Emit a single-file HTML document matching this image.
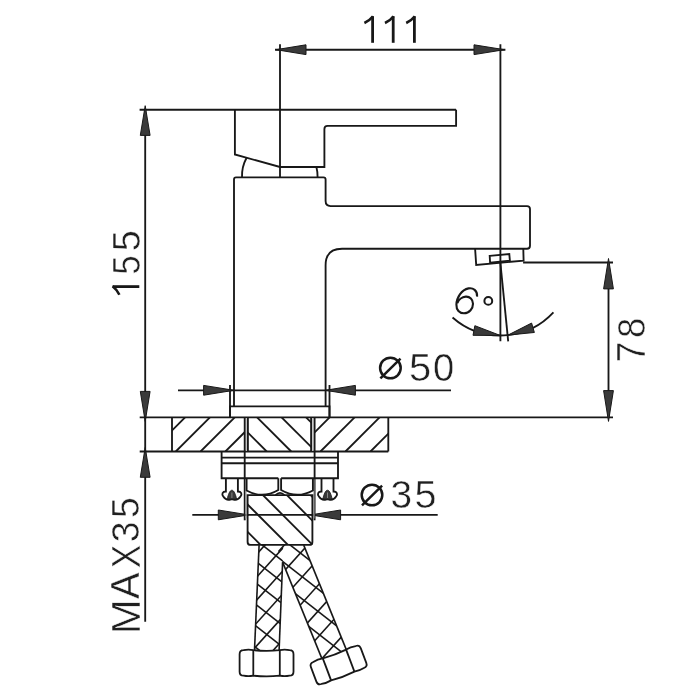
<!DOCTYPE html>
<html><head><meta charset="utf-8"><style>
html,body{margin:0;padding:0;background:#fff;}
svg{display:block;}
</style></head><body>
<svg width="700" height="700" viewBox="0 0 700 700" stroke-linecap="butt" style="filter:grayscale(1)">
<rect width="700" height="700" fill="#fff"/>
<line x1="280" y1="44.3" x2="280" y2="177.4" stroke="#181818" stroke-width="1.85"/>
<line x1="500.4" y1="44.3" x2="500.4" y2="341.3" stroke="#181818" stroke-width="1.85"/>
<line x1="275" y1="49.7" x2="505.4" y2="49.7" stroke="#181818" stroke-width="1.85"/>
<path d="M276.00,49.70 L306.00,44.80 L306.00,54.60 Z" fill="#3a3a3a" stroke="#181818" stroke-width="1" stroke-linejoin="round"/>
<path d="M504.40,49.70 L474.00,54.60 L474.00,44.80 Z" fill="#3a3a3a" stroke="#181818" stroke-width="1" stroke-linejoin="round"/>
<path d="M372.6,42.8 L372.6,16.2" fill="none" stroke="#181818" stroke-width="2.8" />
<path d="M373.0,16.2 Q369.6,20.6 364.40000000000003,23.0" fill="none" stroke="#181818" stroke-width="2.5999999999999996" />
<path d="M393.2,42.8 L393.2,16.2" fill="none" stroke="#181818" stroke-width="2.8" />
<path d="M393.59999999999997,16.2 Q390.2,20.6 385.0,23.0" fill="none" stroke="#181818" stroke-width="2.5999999999999996" />
<path d="M414.4,42.8 L414.4,16.2" fill="none" stroke="#181818" stroke-width="2.8" />
<path d="M414.79999999999995,16.2 Q411.4,20.6 406.2,23.0" fill="none" stroke="#181818" stroke-width="2.5999999999999996" />
<line x1="139.6" y1="109.7" x2="456.1" y2="109.7" stroke="#181818" stroke-width="1.85"/>
<line x1="145.2" y1="109.7" x2="145.2" y2="621.8" stroke="#181818" stroke-width="1.85"/>
<path d="M145.20,105.70 L150.10,135.40 L140.30,135.40 Z" fill="#3a3a3a" stroke="#181818" stroke-width="1" stroke-linejoin="round"/>
<path d="M145.20,421.40 L140.30,391.40 L150.10,391.40 Z" fill="#3a3a3a" stroke="#181818" stroke-width="1" stroke-linejoin="round"/>
<path d="M145.20,447.50 L150.10,477.30 L140.30,477.30 Z" fill="#3a3a3a" stroke="#181818" stroke-width="1" stroke-linejoin="round"/>
<path d="M139.3,286.6 L112.6,286.6" fill="none" stroke="#181818" stroke-width="2.8" />
<path d="M112.6,286.20000000000005 Q117,289.6 119.4,294.8" fill="none" stroke="#181818" stroke-width="2.5999999999999996" />
<text transform="matrix(0,-0.3495,0.3971,0,139.65,274.85)" font-family="Liberation Sans" font-size="100" fill="#202020" stroke="#fff" stroke-width="1.43">5</text>
<text transform="matrix(0,-0.3811,0.3971,0,139.65,251.37)" font-family="Liberation Sans" font-size="100" fill="#202020" stroke="#fff" stroke-width="1.31">5</text>
<text transform="matrix(0,-0.4193,0.4029,0,139.55,634.30)" font-family="Liberation Sans" font-size="100" fill="#202020" stroke="#fff" stroke-width="1.24">M</text>
<text transform="matrix(0,-0.3970,0.4000,0,139.35,599.05)" font-family="Liberation Sans" font-size="100" fill="#202020" stroke="#fff" stroke-width="1.26">A</text>
<text transform="matrix(0,-0.3532,0.4029,0,139.55,568.23)" font-family="Liberation Sans" font-size="100" fill="#202020" stroke="#fff" stroke-width="1.42">X</text>
<text transform="matrix(0,-0.3726,0.3873,0,139.36,542.14)" font-family="Liberation Sans" font-size="100" fill="#202020" stroke="#fff" stroke-width="1.34">3</text>
<text transform="matrix(0,-0.3726,0.3971,0,139.15,518.04)" font-family="Liberation Sans" font-size="100" fill="#202020" stroke="#fff" stroke-width="1.34">5</text>
<line x1="139.7" y1="417.4" x2="613" y2="417.4" stroke="#181818" stroke-width="1.85"/>
<line x1="139.7" y1="451.5" x2="388.3" y2="451.5" stroke="#181818" stroke-width="1.85"/>
<line x1="172" y1="417.4" x2="172" y2="451.5" stroke="#181818" stroke-width="1.85"/>
<line x1="388.3" y1="417.4" x2="388.3" y2="451.5" stroke="#181818" stroke-width="1.85"/>
<line x1="523.1" y1="262.5" x2="613" y2="262.5" stroke="#181818" stroke-width="1.85"/>
<line x1="608.5" y1="262.5" x2="608.5" y2="417.4" stroke="#181818" stroke-width="1.85"/>
<path d="M608.50,258.50 L613.40,288.90 L603.60,288.90 Z" fill="#3a3a3a" stroke="#181818" stroke-width="1" stroke-linejoin="round"/>
<path d="M608.50,421.40 L603.60,390.60 L613.40,390.60 Z" fill="#3a3a3a" stroke="#181818" stroke-width="1" stroke-linejoin="round"/>
<text transform="matrix(0,-0.3761,0.4014,0,645.45,362.53)" font-family="Liberation Sans" font-size="100" fill="#202020" stroke="#fff" stroke-width="1.33">7</text>
<text transform="matrix(0,-0.3642,0.3930,0,645.06,338.11)" font-family="Liberation Sans" font-size="100" fill="#202020" stroke="#fff" stroke-width="1.37">8</text>
<line x1="178" y1="390.3" x2="451" y2="390.3" stroke="#181818" stroke-width="1.85"/>
<line x1="230" y1="385" x2="230" y2="417.4" stroke="#181818" stroke-width="1.85"/>
<line x1="329.5" y1="385" x2="329.5" y2="417.4" stroke="#181818" stroke-width="1.85"/>
<path d="M234.00,390.30 L203.60,395.20 L203.60,385.40 Z" fill="#3a3a3a" stroke="#181818" stroke-width="1" stroke-linejoin="round"/>
<path d="M325.50,390.30 L355.40,385.40 L355.40,395.20 Z" fill="#3a3a3a" stroke="#181818" stroke-width="1" stroke-linejoin="round"/>
<circle cx="390.4" cy="368" r="10.3" fill="none" stroke="#181818" stroke-width="2.5"/>
<path d="M380.4,378.3 L400.5,358.7" fill="none" stroke="#181818" stroke-width="2.5" />
<text transform="matrix(0.4000,0,0,0.3914,409.05,381.36)" font-family="Liberation Sans" font-size="100" fill="#202020" stroke="#fff" stroke-width="1.28">5</text>
<text transform="matrix(0.3814,0,0,0.3859,433.01,381.36)" font-family="Liberation Sans" font-size="100" fill="#202020" stroke="#fff" stroke-width="1.31">0</text>
<line x1="192.3" y1="514.9" x2="437.7" y2="514.9" stroke="#181818" stroke-width="1.85"/>
<rect x="245.6" y="418" width="1.4" height="33" fill="#c4c4c4"/>
<rect x="312.1" y="418" width="1.5" height="33" fill="#c4c4c4"/>
<line x1="244.7" y1="417.4" x2="244.7" y2="520.3" stroke="#181818" stroke-width="1.85"/>
<line x1="314.6" y1="417.4" x2="314.6" y2="520.3" stroke="#181818" stroke-width="1.85"/>
<path d="M248.70,514.90 L218.30,519.80 L218.30,510.00 Z" fill="#3a3a3a" stroke="#181818" stroke-width="1" stroke-linejoin="round"/>
<path d="M310.60,514.90 L340.60,510.00 L340.60,519.80 Z" fill="#3a3a3a" stroke="#181818" stroke-width="1" stroke-linejoin="round"/>
<circle cx="372" cy="495" r="10.3" fill="none" stroke="#181818" stroke-width="2.5"/>
<path d="M362,505.3 L382.1,485.7" fill="none" stroke="#181818" stroke-width="2.5" />
<text transform="matrix(0.3895,0,0,0.3887,390.49,507.56)" font-family="Liberation Sans" font-size="100" fill="#202020" stroke="#fff" stroke-width="1.29">3</text>
<text transform="matrix(0.3958,0,0,0.3943,414.47,507.56)" font-family="Liberation Sans" font-size="100" fill="#202020" stroke="#fff" stroke-width="1.27">5</text>
<path d="M234.9,109.7 L234.9,154.5 L280,167 L324.4,167 L324.4,129 Q324.4,125.8 327.6,125.8 L456.1,125.8 L456.1,109.7" fill="none" stroke="#181818" stroke-width="1.85" />
<path d="M242,177.4 A38,38 0 0 1 246.6,157.8" fill="none" stroke="#181818" stroke-width="1.85" />
<path d="M317.6,177.4 A38,38 0 0 0 316.4,167" fill="none" stroke="#181818" stroke-width="1.85" />
<path d="M234,406.4 L234,179.4 Q234,177.4 236,177.4 L323.5,177.4 Q325.6,177.4 325.6,179.5 L325.6,201.1 Q325.6,206.1 330.6,206.1 L527,206.1 Q530,206.1 530,209.1 L530,245.7 Q530,248.7 527,248.7 L342.1,248.7 Q325.6,248.7 325.6,265.2 L325.6,406.4" fill="none" stroke="#181818" stroke-width="1.85" />
<path d="M475.1,248.7 L476.2,264.9 L523.6,260.6 L523.3,248.7" fill="none" stroke="#181818" stroke-width="1.85" />
<path d="M489.7,255.9 L509.3,254.1 L509.9,260.7 L490.1,262.7 Z" fill="none" stroke="#181818" stroke-width="1.85" />
<path d="M230,417.4 L230,406.4 L329.5,406.4 L329.5,417.4" fill="none" stroke="#181818" stroke-width="1.85" />
<line x1="247.9" y1="417.4" x2="247.9" y2="451.5" stroke="#181818" stroke-width="1.85"/>
<line x1="311.1" y1="417.4" x2="311.1" y2="451.5" stroke="#181818" stroke-width="1.85"/>
<rect x="245.6" y="478.5" width="1.2" height="40" fill="#c8c8c8"/>
<rect x="313.2" y="478.5" width="1.2" height="40" fill="#c8c8c8"/>
<path d="M278.3,478.2 L221.6,478.2 L221.6,451.5" fill="none" stroke="#181818" stroke-width="1.85" />
<path d="M281.1,478.2 L338,478.2 L338,451.5" fill="none" stroke="#181818" stroke-width="1.85" />
<line x1="221.6" y1="457.6" x2="338" y2="457.6" stroke="#181818" stroke-width="1.85"/>
<line x1="221.6" y1="463.2" x2="338" y2="463.2" stroke="#181818" stroke-width="1.85"/>
<clipPath id="hL"><rect x="172" y="417.4" width="72.69999999999999" height="34.10000000000002"/></clipPath>
<g clip-path="url(#hL)">
<line x1="126.2" y1="451.5" x2="160.3" y2="417.4" stroke="#181818" stroke-width="1.85"/>
<line x1="151.0" y1="451.5" x2="185.1" y2="417.4" stroke="#181818" stroke-width="1.85"/>
<line x1="175.8" y1="451.5" x2="209.9" y2="417.4" stroke="#181818" stroke-width="1.85"/>
<line x1="200.6" y1="451.5" x2="234.7" y2="417.4" stroke="#181818" stroke-width="1.85"/>
<line x1="225.4" y1="451.5" x2="259.5" y2="417.4" stroke="#181818" stroke-width="1.85"/>
<line x1="250.2" y1="451.5" x2="284.3" y2="417.4" stroke="#181818" stroke-width="1.85"/>
</g>
<clipPath id="hM"><rect x="247.9" y="417.4" width="63.20000000000002" height="34.10000000000002"/></clipPath>
<g clip-path="url(#hM)">
<line x1="306.1" y1="417.4" x2="340.2" y2="451.5" stroke="#181818" stroke-width="1.85"/>
<line x1="281.6" y1="417.4" x2="315.7" y2="451.5" stroke="#181818" stroke-width="1.85"/>
<line x1="257.1" y1="417.4" x2="291.2" y2="451.5" stroke="#181818" stroke-width="1.85"/>
<line x1="232.6" y1="417.4" x2="266.7" y2="451.5" stroke="#181818" stroke-width="1.85"/>
<line x1="208.1" y1="417.4" x2="242.2" y2="451.5" stroke="#181818" stroke-width="1.85"/>
</g>
<clipPath id="hR"><rect x="314.6" y="417.4" width="73.69999999999999" height="34.10000000000002"/></clipPath>
<g clip-path="url(#hR)">
<line x1="270.5" y1="451.5" x2="304.6" y2="417.4" stroke="#181818" stroke-width="1.85"/>
<line x1="295.5" y1="451.5" x2="329.6" y2="417.4" stroke="#181818" stroke-width="1.85"/>
<line x1="320.5" y1="451.5" x2="354.6" y2="417.4" stroke="#181818" stroke-width="1.85"/>
<line x1="345.5" y1="451.5" x2="379.6" y2="417.4" stroke="#181818" stroke-width="1.85"/>
<line x1="370.5" y1="451.5" x2="404.6" y2="417.4" stroke="#181818" stroke-width="1.85"/>
<line x1="395.5" y1="451.5" x2="429.6" y2="417.4" stroke="#181818" stroke-width="1.85"/>
</g>
<line x1="500.4" y1="263" x2="508.2" y2="341.3" stroke="#181818" stroke-width="1.85"/>
<path d="M452.55,317.47 A72.5,72.5 0 0 0 553.42,312.44" fill="none" stroke="#181818" stroke-width="1.85" />
<path d="M500.40,335.50 L473.04,335.32 L474.86,325.69 Z" fill="#3a3a3a" stroke="#181818" stroke-width="1" stroke-linejoin="round"/>
<path d="M507.98,335.10 L531.60,323.07 L534.35,332.47 Z" fill="#3a3a3a" stroke="#181818" stroke-width="1" stroke-linejoin="round"/>
<path d="M477.1,296.6 C477.6,290.5 473,287.6 468.5,288.4 C461.5,289.8 456.6,297.5 456.4,304.5 C456.2,310 459.5,313.3 464,313.3 C469.5,313.3 473,308.5 473,303.8 C473,299.2 469.8,296.4 465.8,296.6 C461.8,296.8 458.5,300 457.3,303" fill="none" stroke="#181818" stroke-width="2.1" />
<circle cx="488.3" cy="300.9" r="3.9" fill="none" stroke="#181818" stroke-width="2"/>
<path d="M225.9,478.2 L225.9,491.5 C222.4,491.5 221.4,494 223.3,496.5 C224.9,498.8 227.4,500.2 229.4,499.8 L231.9,499 L234.4,499.8 C236.4,500.2 238.9,498.8 240.5,496.5 C242.4,494 241.4,491.5 237.9,491.5 L237.9,478.2" fill="none" stroke="#181818" stroke-width="1.85" />
<path d="M227.1,499.2 C228.3,494.5 229.70000000000002,490.2 231.9,490.2 C234.1,490.2 235.5,494.5 236.70000000000002,499.2 Z" fill="#3a3a3a" stroke="#181818" stroke-width="0.8"/>
<path d="M231.9,492.5 L231.9,498" stroke="#888" stroke-width="1"/>
<path d="M321.5,478.2 L321.5,491.5 C318.0,491.5 317.0,494 318.9,496.5 C320.5,498.8 323.0,500.2 325.0,499.8 L327.5,499 L330.0,499.8 C332.0,500.2 334.5,498.8 336.1,496.5 C338.0,494 337.0,491.5 333.5,491.5 L333.5,478.2" fill="none" stroke="#181818" stroke-width="1.85" />
<path d="M322.7,499.2 C323.9,494.5 325.3,490.2 327.5,490.2 C329.7,490.2 331.1,494.5 332.3,499.2 Z" fill="#3a3a3a" stroke="#181818" stroke-width="0.8"/>
<path d="M327.5,492.5 L327.5,498" stroke="#888" stroke-width="1"/>
<path d="M246.6,478.2 L246.6,490.5 Q262.5,499.3 278.3,490 L278.3,478.2" fill="none" stroke="#181818" stroke-width="1.85" />
<path d="M281.1,478.2 L281.1,490 Q297,499.3 312.9,490.5 L312.9,478.2" fill="none" stroke="#181818" stroke-width="1.85" />
<path d="M275.5,495.1 Q280,490.5 284.5,495.1" fill="none" stroke="#181818" stroke-width="1.85" />
<path d="M247.6,495.1 L312.4,495.1 L312.4,541.9 Q312.4,544.9 309.4,544.9 L250.6,544.9 Q247.6,544.9 247.6,541.9 Z" fill="none" stroke="#181818" stroke-width="1.85" />
<clipPath id="hS"><rect x="247.6" y="495.1" width="64.79999999999998" height="49.799999999999955"/></clipPath>
<g clip-path="url(#hS)">
<line x1="310.6" y1="495.1" x2="360.4" y2="544.9" stroke="#181818" stroke-width="1.85"/>
<line x1="286.9" y1="495.1" x2="336.7" y2="544.9" stroke="#181818" stroke-width="1.85"/>
<line x1="262.9" y1="495.1" x2="312.7" y2="544.9" stroke="#181818" stroke-width="1.85"/>
<line x1="238.2" y1="495.1" x2="288.0" y2="544.9" stroke="#181818" stroke-width="1.85"/>
<line x1="210.8" y1="495.1" x2="260.6" y2="544.9" stroke="#181818" stroke-width="1.85"/>
<line x1="186.1" y1="495.1" x2="235.9" y2="544.9" stroke="#181818" stroke-width="1.85"/>
</g>
<clipPath id="cLH"><polygon points="259.1,545.1 283.3,545.1 279.1,650.2 254.5,650.2"/></clipPath>
<g clip-path="url(#cLH)">
<line x1="200" y1="453.4" x2="400" y2="609.6" stroke="#181818" stroke-width="1.6"/>
<line x1="200" y1="474.9" x2="400" y2="631.1" stroke="#181818" stroke-width="1.6"/>
<line x1="200" y1="496.4" x2="400" y2="652.6" stroke="#181818" stroke-width="1.6"/>
<line x1="200" y1="517.9" x2="400" y2="674.1" stroke="#181818" stroke-width="1.6"/>
<line x1="200" y1="539.4" x2="400" y2="695.6" stroke="#181818" stroke-width="1.6"/>
<line x1="200" y1="560.9" x2="400" y2="717.1" stroke="#181818" stroke-width="1.6"/>
<line x1="200" y1="582.4" x2="400" y2="738.6" stroke="#181818" stroke-width="1.6"/>
<line x1="200" y1="603.9" x2="400" y2="760.1" stroke="#181818" stroke-width="1.6"/>
<line x1="200" y1="571.4" x2="400" y2="349.2" stroke="#181818" stroke-width="1.6"/>
<line x1="200" y1="594.3" x2="400" y2="372.1" stroke="#181818" stroke-width="1.6"/>
<line x1="200" y1="617.2" x2="400" y2="395.0" stroke="#181818" stroke-width="1.6"/>
<line x1="200" y1="640.1" x2="400" y2="417.9" stroke="#181818" stroke-width="1.6"/>
<line x1="200" y1="663.0" x2="400" y2="440.8" stroke="#181818" stroke-width="1.6"/>
<line x1="200" y1="685.9" x2="400" y2="463.7" stroke="#181818" stroke-width="1.6"/>
<line x1="200" y1="708.8" x2="400" y2="486.6" stroke="#181818" stroke-width="1.6"/>
<line x1="200" y1="731.7" x2="400" y2="509.5" stroke="#181818" stroke-width="1.6"/>
<line x1="200" y1="754.6" x2="400" y2="532.4" stroke="#181818" stroke-width="1.6"/>
</g>
<clipPath id="cRH"><polygon points="275.7,545.1 303.7,545.1 346.4,649.9 322.1,659.1"/></clipPath>
<g clip-path="url(#cRH)">
<line x1="200" y1="430.0" x2="400" y2="586.2" stroke="#181818" stroke-width="1.6"/>
<line x1="200" y1="452.3" x2="400" y2="608.5" stroke="#181818" stroke-width="1.6"/>
<line x1="200" y1="474.6" x2="400" y2="630.8" stroke="#181818" stroke-width="1.6"/>
<line x1="200" y1="496.9" x2="400" y2="653.1" stroke="#181818" stroke-width="1.6"/>
<line x1="200" y1="519.2" x2="400" y2="675.4" stroke="#181818" stroke-width="1.6"/>
<line x1="200" y1="541.5" x2="400" y2="697.7" stroke="#181818" stroke-width="1.6"/>
<line x1="200" y1="563.8" x2="400" y2="720.0" stroke="#181818" stroke-width="1.6"/>
<line x1="200" y1="586.1" x2="400" y2="742.3" stroke="#181818" stroke-width="1.6"/>
<line x1="200" y1="608.4" x2="400" y2="764.6" stroke="#181818" stroke-width="1.6"/>
<line x1="200" y1="630.7" x2="400" y2="786.9" stroke="#181818" stroke-width="1.6"/>
<line x1="200" y1="612.8" x2="400" y2="390.6" stroke="#181818" stroke-width="1.6"/>
<line x1="200" y1="638.7" x2="400" y2="416.5" stroke="#181818" stroke-width="1.6"/>
<line x1="200" y1="664.6" x2="400" y2="442.4" stroke="#181818" stroke-width="1.6"/>
<line x1="200" y1="690.5" x2="400" y2="468.3" stroke="#181818" stroke-width="1.6"/>
<line x1="200" y1="716.4" x2="400" y2="494.2" stroke="#181818" stroke-width="1.6"/>
<line x1="200" y1="742.3" x2="400" y2="520.1" stroke="#181818" stroke-width="1.6"/>
<line x1="200" y1="768.2" x2="400" y2="546.0" stroke="#181818" stroke-width="1.6"/>
<line x1="200" y1="794.1" x2="400" y2="571.9" stroke="#181818" stroke-width="1.6"/>
<line x1="200" y1="820.0" x2="400" y2="597.8" stroke="#181818" stroke-width="1.6"/>
<line x1="200" y1="845.9" x2="400" y2="623.7" stroke="#181818" stroke-width="1.6"/>
</g>
<path d="M259.1,545.1 L254.5,650.2" fill="none" stroke="#181818" stroke-width="1.6" />
<path d="M282.6,562.1 L279.1,650.2" fill="none" stroke="#181818" stroke-width="1.6" />
<path d="M303.7,545.1 L346.4,649.9" fill="none" stroke="#181818" stroke-width="1.6" />
<path d="M282.6,562.1 L322.1,659.1" fill="none" stroke="#181818" stroke-width="1.6" />
<g transform="translate(266.55,662.95) rotate(0)">
<path d="M-22.95,-12.75 Q-18.1,-13.95 -13.25,-12.75 Q0,-11.55 13.25,-12.75 Q18.1,-13.95 22.95,-12.75 Q26.95,-12.75 26.95,-8.75 L26.95,8.75 Q26.95,12.75 22.95,12.75 Q18.1,13.75 13.25,12.75 Q0,14.15 -13.25,12.75 Q-18.1,13.75 -22.95,12.75 Q-26.95,12.75 -26.95,8.75 L-26.95,-8.75 Q-26.95,-12.75 -22.95,-12.75 Z" fill="#fff" stroke="#181818" stroke-width="1.8" />
<path d="M-13.25,-12.75 L-13.25,12.75" fill="none" stroke="#181818" stroke-width="1.8" />
<path d="M13.25,-12.75 L13.25,12.75" fill="none" stroke="#181818" stroke-width="1.8" />
</g>
<g transform="translate(338.6,665.0) rotate(-20.6)">
<path d="M-22.65,-11.75 Q-17.549999999999997,-12.95 -12.45,-11.75 Q0,-10.55 12.45,-11.75 Q17.549999999999997,-12.95 22.65,-11.75 Q26.65,-11.75 26.65,-7.75 L26.65,7.75 Q26.65,11.75 22.65,11.75 Q17.549999999999997,12.75 12.45,11.75 Q0,13.15 -12.45,11.75 Q-17.549999999999997,12.75 -22.65,11.75 Q-26.65,11.75 -26.65,7.75 L-26.65,-7.75 Q-26.65,-11.75 -22.65,-11.75 Z" fill="#fff" stroke="#181818" stroke-width="1.8" />
<path d="M-12.45,-11.75 L-12.45,11.75" fill="none" stroke="#181818" stroke-width="1.8" />
<path d="M12.45,-11.75 L12.45,11.75" fill="none" stroke="#181818" stroke-width="1.8" />
</g>
</svg>
</body></html>
